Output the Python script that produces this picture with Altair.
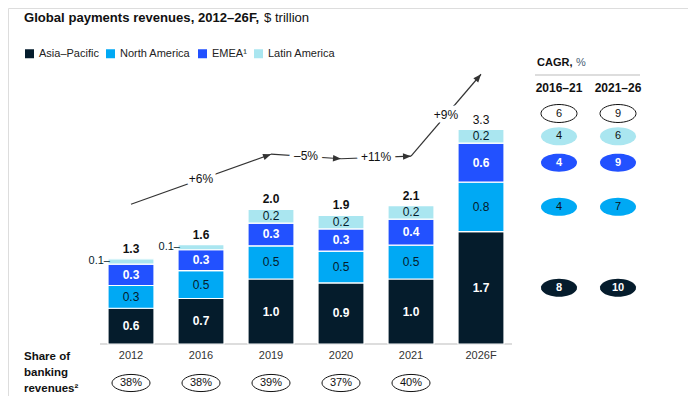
import math
import altair as alt
import pandas as pd

# ---------------- data ----------------
years = ["2012", "2016", "2019", "2020", "2021", "2026F"]
regions = ["Asia–Pacific", "North America", "EMEA¹", "Latin America"]
apac = [0.55, 0.70, 1.00, 0.94, 1.00, 1.73]
north_america = [0.35, 0.43, 0.51, 0.49, 0.52, 0.76]
emea = [0.33, 0.32, 0.35, 0.34, 0.40, 0.60]
latam = [0.08, 0.08, 0.21, 0.21, 0.21, 0.21]
apac_labels = ["0.6", "0.7", "1.0", "0.9", "1.0", "1.7"]
na_labels = ["0.3", "0.5", "0.5", "0.5", "0.5", "0.8"]
emea_labels = ["0.3", "0.3", "0.3", "0.3", "0.4", "0.6"]
latam_labels = ["0.1", "0.1", "0.2", "0.2", "0.2", "0.2"]
total_labels = ["1.3", "1.6", "2.0", "1.9", "2.1", "3.3"]

share_years = ["2012", "2016", "2019", "2020", "2021"]
share_banking = ["38%", "38%", "39%", "37%", "40%"]

growth_from = ["2012", "2019", "2020", "2021"]
growth_to = ["2019", "2020", "2021", "2026F"]
growth_level_from = [2.15, 2.92, 2.85, 2.89]
growth_level_to = [2.92, 2.85, 2.89, 4.15]
growth_labels = ["+6%", "–5%", "+11%", "+9%"]

cagr_periods = ["2016–21", "2021–26"]
cagr_rows = ["Total", "Latin America", "EMEA¹", "North America", "Asia–Pacific"]
cagr_2016_21 = [6, 4, 4, 4, 8]
cagr_2021_26 = [9, 6, 9, 7, 10]

title_bold = "Global payments revenues, 2012–26F,"
title_unit = "$ trillion"
share_title = "Share of\nbanking\nrevenues²"
cagr_title = "CAGR,"
cagr_unit = "%"

# ---------------- style / layout ----------------
COLORS = ["#051C2C", "#00A9F4", "#2251FF", "#AAE6F0"]
DARK = "#051C2C"
INK = "#111111"
FONT = "Liberation Sans"
W, H = 680, 388
PX = 65.0            # pixels per $ trillion
BASE = 336           # pixel row of zero
X_RANGE = [88, 508]
STEP = (X_RANGE[1] - X_RANGE[0]) / len(years)
PAD_IN = 24 / 70
BAR_W = STEP * (1 - PAD_IN)
Y_MIN = -(H - BASE) / PX
Y_MAX = Y_MIN + H / PX

yscale = alt.Scale(domain=[Y_MIN, Y_MAX], nice=False, zero=False)
xband = alt.Scale(domain=years, range=X_RANGE, paddingInner=PAD_IN, paddingOuter=PAD_IN / 2)
xidx = alt.Scale(domain=[0, len(years) - 1], range=[X_RANGE[0] + STEP / 2, X_RANGE[1] - STEP / 2],
                 nice=False, zero=False)
xcagr = alt.Scale(type="point", domain=cagr_periods, range=[551, 610], padding=0)


def ellipse(ratio, n=40):
    pts = []
    for k in range(n):
        t = 2 * math.pi * k / n
        pts.append(f"{math.cos(t):.4f} {ratio * math.sin(t):.4f}")
    return "M " + " L ".join(pts) + " Z"


ELL_CAGR = ellipse(0.5)
ELL_SHARE = ellipse(0.45)
ARROW = "M 0 0 L -2 -0.8 L -2 0.8 Z"

# ---------------- tables ----------------
series = [apac, north_america, emea, latam]
series_labels = [apac_labels, na_labels, emea_labels, latam_labels]
rows = []
for i, yr in enumerate(years):
    base = 0.0
    for r in range(len(regions)):
        v = series[r][i]
        rows.append(dict(year=yr, pos=i, region=regions[r], y0=base, y1=base + v, mid=base + v / 2,
                         label=series_labels[r][i], light=r in (0, 2), outside=v < 0.15))
        base += v
seg = pd.DataFrame(rows)
totals = [sum(s[i] for s in series) for i in range(len(years))]
tot = pd.DataFrame(dict(year=years, total=totals, label=total_labels,
                        forecast=[y.endswith("F") for y in years]))

idx = {y: i for i, y in enumerate(years)}
arr = pd.DataFrame(dict(x0=[idx[a] for a in growth_from], x1=[idx[b] for b in growth_to],
                        y0=growth_level_from, y1=growth_level_to, label=growth_labels))
arr["xm"] = (arr.x0 + arr.x1) / 2
arr["ym"] = (arr.y0 + arr.y1) / 2
arr["ang"] = [math.degrees(math.atan2(-(b - a) * PX, (q - p) * STEP)) % 360
              for p, q, a, b in zip(arr.x0, arr.x1, arr.y0, arr.y1)]

last = seg[seg.year == years[-1]].set_index("region")
crow = []
for period, vals in zip(cagr_periods, [cagr_2016_21, cagr_2021_26]):
    for r, v in zip(cagr_rows, vals):
        ypos = totals[-1] + 16 / PX if r == "Total" else last.loc[r, "mid"]
        crow.append(dict(period=period, row=r, value=str(v), ypos=ypos,
                         outlined=r == "Total", light=r in ("EMEA¹", "Asia–Pacific")))
cagr = pd.DataFrame(crow)
share = pd.DataFrame(dict(year=share_years, label=share_banking))
yr_df = pd.DataFrame(dict(year=years))

X = lambda f="year:N", **k: alt.X(f, scale=xband, axis=None, **k)
Y = lambda f: alt.Y(f, scale=yscale, axis=None)
XI = lambda f: alt.X(f, scale=xidx, axis=None)

# ---------------- layers ----------------
baseline = alt.Chart(pd.DataFrame({"z": [0]})).mark_rule(color="#BBBBBB", strokeWidth=1).encode(
    x=alt.value(X_RANGE[0] + 4), x2=alt.value(X_RANGE[1] - 4), y=Y("z:Q"))

bars = alt.Chart(seg).mark_bar(stroke="white", strokeWidth=1.2).encode(
    x=X(), y=Y("y0:Q"), y2="y1:Q",
    color=alt.Color("region:N", scale=alt.Scale(domain=regions, range=COLORS),
                    legend=alt.Legend(title=None, orient="none", legendX=16, legendY=40,
                                      direction="horizontal", symbolType="square",
                                      symbolSize=81, symbolStrokeWidth=0, labelFontSize=11,
                                      labelFont=FONT, labelColor="#222222", columnPadding=6,
                                      labelOffset=4, padding=0)))

seg_light = alt.Chart(seg).transform_filter("datum.light && !datum.outside").mark_text(
    color="white", fontWeight="bold", fontSize=12, font=FONT).encode(x=X(), y=Y("mid:Q"), text="label:N")
seg_dark = alt.Chart(seg).transform_filter("!datum.light && !datum.outside").mark_text(
    color=DARK, fontSize=12, font=FONT).encode(x=X(), y=Y("mid:Q"), text="label:N")
seg_out = alt.Chart(seg).transform_filter("datum.outside").transform_calculate(
    t="datum.label + '–'").mark_text(color=DARK, fontSize=11, font=FONT, align="right",
                                     dx=-BAR_W / 2 + 2).encode(
    x=XI("pos:Q"), y=Y("mid:Q"), text="t:N")

tot_bold = alt.Chart(tot).transform_filter("!datum.forecast").mark_text(
    color=INK, fontWeight="bold", fontSize=12, font=FONT, dy=-10).encode(x=X(), y=Y("total:Q"), text="label:N")
tot_reg = alt.Chart(tot).transform_filter("datum.forecast").mark_text(
    color=INK, fontSize=12, font=FONT, dy=-10).encode(x=X(), y=Y("total:Q"), text="label:N")

arrow_lines = alt.Chart(arr).mark_rule(color="#333333", strokeWidth=1.2).encode(
    x=XI("x0:Q"), x2="x1:Q", y=Y("y0:Q"), y2="y1:Q")
arrow_heads = alt.Chart(arr).mark_point(shape=ARROW, size=64, filled=True, color="#333333",
                                        opacity=1).encode(
    x=XI("x1:Q"), y=Y("y1:Q"), angle=alt.Angle("ang:Q", scale=None))
arrow_halo = alt.Chart(arr).mark_text(color="white", stroke="white", strokeWidth=9,
                                      strokeJoin="round", fontSize=12, font=FONT).encode(
    x=XI("xm:Q"), y=Y("ym:Q"), text="label:N")
arrow_text = alt.Chart(arr).mark_text(color=INK, fontSize=12, font=FONT).encode(
    x=XI("xm:Q"), y=Y("ym:Q"), text="label:N")

year_text = alt.Chart(yr_df).mark_text(color="#333333", fontSize=11, font=FONT).encode(
    x=X(), y=alt.value(348), text="year:N")
share_ell = alt.Chart(share).mark_point(shape=ELL_SHARE, size=38 * 38, filled=True, fill="white",
                                        stroke=INK, strokeWidth=1, opacity=1).encode(
    x=X(), y=alt.value(375))
share_txt = alt.Chart(share).mark_text(color=INK, fontSize=11, font=FONT).encode(
    x=X(), y=alt.value(375), text="label:N")
share_lbl = alt.Chart(pd.DataFrame({"t": [share_title]})).mark_text(
    color=INK, fontSize=11.5, fontWeight="bold", font=FONT, align="left", baseline="alphabetic",
    lineBreak="\n", lineHeight=16).encode(x=alt.value(16), y=alt.value(352), text="t:N")

XC = lambda f: alt.X(f, scale=xcagr, axis=None)
cagr_out = alt.Chart(cagr).transform_filter("datum.outlined").mark_point(
    shape=ELL_CAGR, size=36 * 36, filled=True, fill="white", stroke=INK, strokeWidth=1, opacity=1).encode(
    x=XC("period:N"), y=Y("ypos:Q"))
cagr_fill = alt.Chart(cagr).transform_filter("!datum.outlined").mark_point(
    shape=ELL_CAGR, size=36 * 36, filled=True, strokeWidth=0, opacity=1).encode(
    x=XC("period:N"), y=Y("ypos:Q"),
    color=alt.Color("row:N", scale=alt.Scale(domain=cagr_rows[1:], range=[COLORS[3], COLORS[2], COLORS[1], COLORS[0]]),
                    legend=None))
cagr_txt_light = alt.Chart(cagr).transform_filter("datum.light").mark_text(
    color="white", fontWeight="bold", fontSize=11, font=FONT).encode(x=XC("period:N"), y=Y("ypos:Q"), text="value:N")
cagr_txt_dark = alt.Chart(cagr).transform_filter("!datum.light").mark_text(
    color=INK, fontSize=11, font=FONT).encode(x=XC("period:N"), y=Y("ypos:Q"), text="value:N")
cagr_head = alt.Chart(pd.DataFrame({"period": cagr_periods})).mark_text(
    color=INK, fontWeight="bold", fontSize=12, font=FONT).encode(x=XC("period:N"), y=alt.value(80), text="period:N")
cagr_t1 = alt.Chart(pd.DataFrame({"t": [cagr_title]})).mark_text(
    color=INK, fontWeight="bold", fontSize=11, font=FONT, align="left").encode(
    x=alt.value(529), y=alt.value(55), text="t:N")
cagr_t2 = alt.Chart(pd.DataFrame({"t": [cagr_unit]})).mark_text(
    color="#4A6075", fontSize=11, font=FONT, align="left").encode(
    x=alt.value(568), y=alt.value(55), text="t:N")
cagr_rule = alt.Chart(pd.DataFrame({"z": [0]})).mark_rule(color="#BBBBBB", strokeWidth=1).encode(
    x=alt.value(527), x2=alt.value(632), y=alt.value(67))

t1 = alt.Chart(pd.DataFrame({"t": [title_bold]})).mark_text(
    color=INK, fontWeight="bold", fontSize=13.1, font=FONT, align="left").encode(
    x=alt.value(16), y=alt.value(10), text="t:N")
t2 = alt.Chart(pd.DataFrame({"t": [title_unit]})).mark_text(
    color=INK, fontSize=13.1, font=FONT, align="left").encode(
    x=alt.value(256), y=alt.value(10), text="t:N")

chart = alt.layer(
    baseline, bars, seg_light, seg_dark, seg_out, tot_bold, tot_reg,
    arrow_lines, arrow_halo, arrow_text, arrow_heads,
    year_text, share_ell, share_txt, share_lbl,
    cagr_rule, cagr_out, cagr_fill, cagr_txt_light, cagr_txt_dark, cagr_head, cagr_t1, cagr_t2,
    t1, t2,
).resolve_scale(x="independent", color="independent").properties(
    width=W, height=H, padding=0, autosize=alt.AutoSizeParams(type="none"),
    background="white",
).configure_view(strokeWidth=0).configure(font=FONT)

chart.save("out.html", embed_options={"renderer": "svg", "actions": False})
